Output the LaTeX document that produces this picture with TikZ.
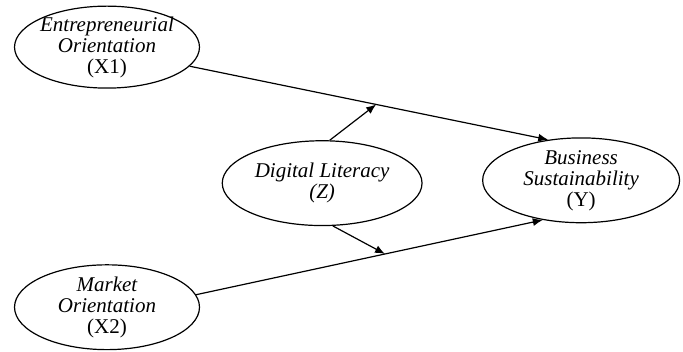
\documentclass[tikz,border=0pt]{standalone}
\usepackage{fontspec}
\setmainfont{Liberation Serif}
\usepackage{tikz}
\usetikzlibrary{arrows.meta, shapes, calc}

\begin{document}
\begin{tikzpicture}[
        var/.style={draw, semithick, ellipse, align=center, inner xsep=-3pt, inner ysep=-2pt,
            font=\itshape\fontsize{10.5}{10.5}\selectfont},
        path/.style={semithick, -{Latex[length=5pt, width=4pt]}}
    ]
        \useasboundingbox (0,0) rectangle (12,6.168);

        % Variables
        \node[var, minimum width=3.25cm, minimum height=1.44cm] (x1) at (1.88,5.34) {Entrepreneurial\\Orientation\\{\upshape(X1)}};
        \node[var, minimum width=3.25cm, minimum height=1.49cm] (x2) at (1.88,0.77) {Market\\Orientation\\{\upshape(X2)}};
        \node[var, minimum width=3.51cm, minimum height=1.49cm] (z) at (5.66,2.95) {Digital Literacy\\(Z)};
        \node[var, minimum width=3.46cm, minimum height=1.49cm] (y) at (10.21,3.00) {Business\\Sustainability\\{\upshape(Y)}};

        % Direct paths
        \draw[path] (x1.-13) -- (y.129);
        \draw[path] (x2.8) -- (y.226);

        % Moderation by Z
        \coordinate (m1) at ($(x1.-13)!0.52!(y.129)$);
        \coordinate (m2) at ($(x2.8)!0.545!(y.226)$);
        \draw[path] (z.80) -- (m1);
        \draw[path] (z.-76) -- (m2);
    \end{tikzpicture}
\end{document}
